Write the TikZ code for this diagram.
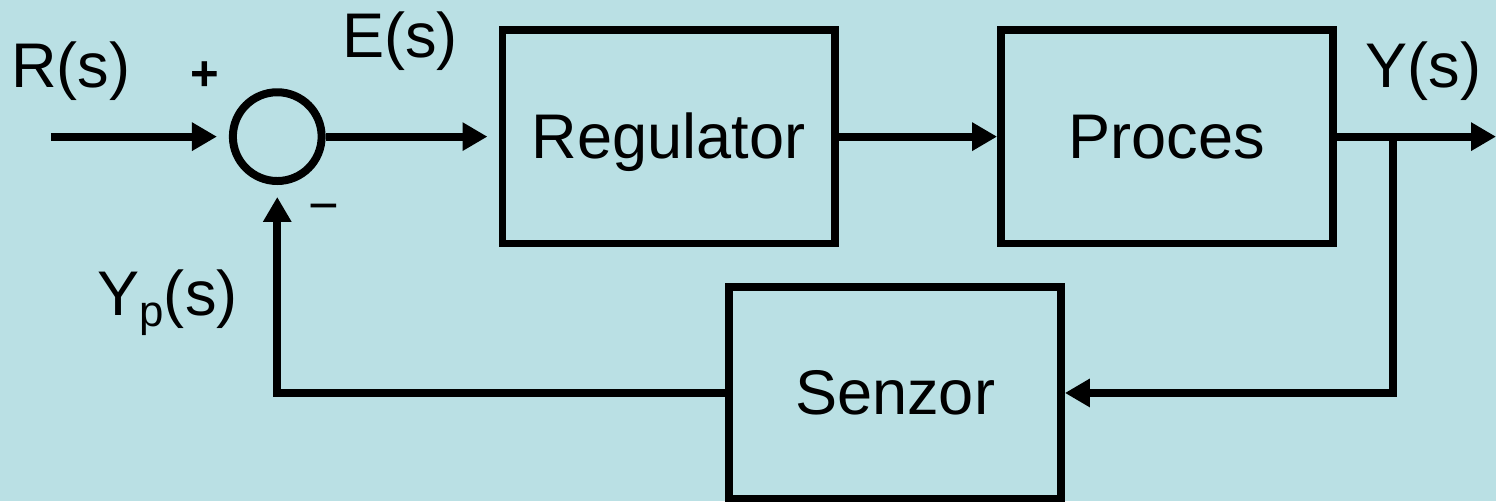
\documentclass[tikz,border=0pt]{standalone}
\usepackage{fontspec}
\setmainfont{Liberation Sans}
\usepackage{tikz}
\usetikzlibrary{positioning,arrows.meta}
\definecolor{slideblue}{RGB}{186,224,228}

\begin{document}
\begin{tikzpicture}[-{Triangle[length=0.5cm,width=0.54cm]} ,line width=0.16cm ,on grid ,font=\fontsize{36}{43}\selectfont ,block/.style ={ rectangle , draw , line width=0.15cm , minimum width=6.66cm , minimum height=4.28cm , inner sep=0pt , text height=0.88cm , text depth=0pt} ,sumpoint/.style ={ circle , draw , minimum size=1.78cm , inner sep=0pt} ,lbl/.style ={ anchor=base , inner sep=0pt}]
\fill[slideblue,-] (0,0) rectangle (30,10.04);
\node[sumpoint] (sum) at (5.56,7.30) {};
\node[block] (reg) [right = 7.85cm of sum] {Regulator};
\node[block] (proc) [right = 9.99cm of reg] {Proces};
\node[block, minimum height=4.24cm] (senz) at (17.95,2.16) {Senzor};
\coordinate (rin) at (1.02,7.30);
\coordinate (yout) at (30,7.30);
\coordinate (split) at (27.94,7.30);
\draw[shorten >=0.24cm] (rin) -- (sum);
\draw[shorten >=0.23cm] (sum) -- (reg);
\draw (reg) -- (proc);
\draw (proc) -- (yout);
\draw (split) |- (senz);
\draw[shorten >=0.24cm] (senz) -| (sum);
\node[lbl] (rlab) at (1.42,8.28) {R(s)};
\node[lbl] (elab) at (8.02,8.88) {E(s)};
\node[lbl] (ylab) at (28.54,8.28) {Y(s)};
\node[lbl] (yplab) at (3.36,3.72) {Y\raisebox{-0.22cm}{\fontsize{25}{25}\selectfont p}(s)};
\node[font=\fontsize{28}{28}\selectfont\bfseries] (plus) at (4.10,8.52) {+};
\node[font=\fontsize{30}{30}\selectfont] (minus) at (6.50,5.76) {−};
\end{tikzpicture}
\end{document}
